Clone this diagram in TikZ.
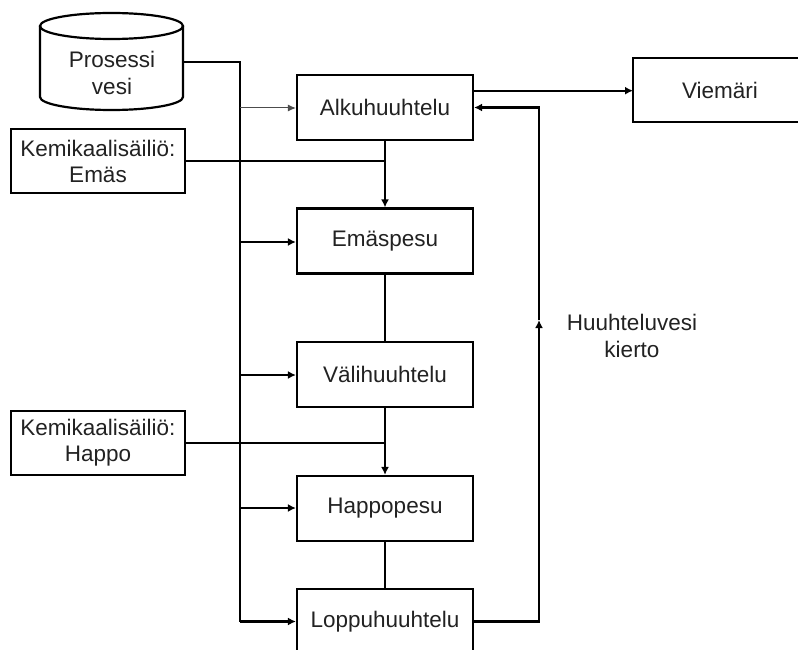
\documentclass[tikz,border=0pt]{standalone}
\usepackage{fontspec}
\setmainfont{Liberation Sans}
\usetikzlibrary{arrows.meta,calc}
\definecolor{txt}{HTML}{222222}
\tikzset{
  boxline/.style={draw=black, line width=2.2pt},
  procbox/.style={boxline, minimum width=176pt, minimum height=65pt, inner sep=0pt, text=txt, font=\fontsize{22.5}{26}\selectfont},
  tankbox/.style={boxline, minimum width=174pt, minimum height=64pt, inner sep=0pt, align=center, text=txt, font=\fontsize{22.5}{26}\selectfont},
  conn/.style={draw=black, line width=2.2pt},
  arr/.style={conn, -{Latex[length=8pt,width=8pt]}},
  thinarr/.style={draw=black!70, line width=1pt, -{Latex[length=8pt,width=7pt]}},
  plaintext/.style={text=txt, align=center, font=\fontsize{22.5}{27}\selectfont}
}
\begin{document}
\begin{tikzpicture}[x=1pt,y=-1pt]
\useasboundingbox (0,0) rectangle (798,650);
\clip (0,0) rectangle (798,650);
\fill[white] (0,0) rectangle (798,650);

% cylinder
\draw[boxline, fill=white] (40,26) -- (40,97) arc[start angle=180, end angle=0, x radius=71.5, y radius=13] -- (183,26);
\draw[boxline] (111.5,26) ellipse [x radius=71.5, y radius=13];
\node[plaintext] (pv) at (112,73) {Prosessi\\vesi};
\coordinate (pvout) at (183,62);

% process boxes
\node[procbox] (alku) at (385,107.5) {Alkuhuuhtelu};
\node[procbox] (emas) at (385,241) {Emäspesu};
\node[procbox] (vali) at (385,374.5) {Välihuuhtelu};
\node[procbox] (happo) at (385,508.5) {Happopesu};
\node[procbox] (loppu) at (385,621.5) {Loppuhuuhtelu};

% tanks
\node[tankbox] (temas) at (98,161) {Kemikaalisäiliö:\\Emäs};
\node[tankbox] (thappo) at (98,443) {Kemikaalisäiliö:\\Happo};

% drain
\draw[boxline] (800,58) -- (633,58) -- (633,122) -- (800,122);
\node[plaintext] (viem) at (720,90) {Viemäri};
\coordinate (viemin) at (633,91);

% label
\node[plaintext] (kierto) at (632,336) {Huuhteluvesi\\kierto};

% bus
\coordinate (bustop) at (240,62);
\coordinate (b1) at (240,108);
\coordinate (b2) at (240,242);
\coordinate (b3) at (240,375);
\coordinate (b4) at (240,508);
\coordinate (b5) at (240,621.5);
\draw[conn] (pvout) -- (bustop) -- (b5);
\draw[thinarr] (b1) -- (b1 -| alku.west);
\draw[arr] (b2) -- (b2 -| emas.west);
\draw[arr] (b3) -- (b3 -| vali.west);
\draw[arr] (b4) -- (b4 -| happo.west);
\draw[arr] (b5) -- (loppu.west);

% chain
\coordinate (j1) at (385,161);
\coordinate (j2) at (385,443);
\draw[arr] (alku.south) -- (emas.north);
\draw[conn] (temas.east) -- (j1);
\draw[conn] (emas.south) -- (vali.north);
\draw[arr] (vali.south) -- (happo.north);
\draw[conn] (thappo.east) -- (j2);
\draw[conn] (happo.south) -- (loppu.north);

% return loop
\coordinate (ret) at (539,320);
\draw[arr] (loppu.east) -| (ret);
\draw[arr] (ret) |- (alku.east);

% to drain
\coordinate (aout) at ($(alku.north east)!0.25!(alku.south east)$);
\draw[arr] (aout) -- (aout -| viemin);
\end{tikzpicture}
\end{document}
